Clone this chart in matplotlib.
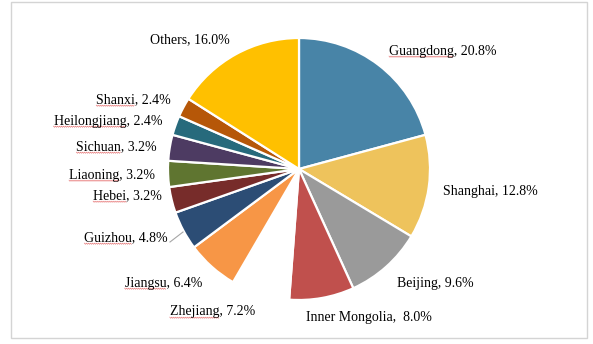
import numpy as np
import matplotlib
matplotlib.use("Agg")
import matplotlib.pyplot as plt
from matplotlib.patches import Rectangle

# share of each region, clockwise from 12 o'clock
regions = ["Guangdong", "Shanghai", "Beijing", "Inner Mongolia", "Zhejiang",
           "Jiangsu", "Guizhou", "Hebei", "Liaoning", "Sichuan",
           "Heilongjiang", "Shanxi", "Others"]
shares = [20.8, 12.8, 9.6, 8.0, 7.2, 6.4, 4.8, 3.2, 3.2, 3.2, 2.4, 2.4, 16.0]

colors = ["#4884A7", "#EEC35C", "#9A9A9A", "#C0504D", "#FFFFFF",
          "#F79646", "#2C4D75", "#772C2A", "#5F7530", "#4D3B62",
          "#276A7C", "#B65708", "#FFC000"]

# label anchor (x, y in pixels, top-left origin) and horizontal alignment
label_pos = [(389, 51, "left"), (443, 191, "left"), (397, 283, "left"),
             (306, 318, "left"), (255, 312, "right"), (202, 283, "right"),
             (168, 238, "right"), (162, 196, "right"), (155, 175, "right"),
             (157, 147, "right"), (162, 121, "right"), (171, 100, "right"),
             (190, 40, "center")]
# names that carry the red squiggle underline
squiggle = {"Guangdong", "Zhejiang", "Jiangsu", "Guizhou", "Hebei", "Liaoning",
            "Sichuan", "Heilongjiang", "Shanxi"}

W, H = 593, 344
fig = plt.figure(figsize=(W / 100, H / 100), dpi=100)
ax = fig.add_axes([0, 0, 1, 1])

cx, cy, r = 299, 169, 131
ax.pie(shares, colors=colors, startangle=-90, counterclock=True,
       center=(cx, cy), radius=r,
       wedgeprops=dict(edgecolor="white", linewidth=1.6))

ax.set_xlim(0, W)
ax.set_ylim(H, 0)
ax.set_aspect("auto")
ax.axis("off")

# outer frame
ax.add_patch(Rectangle((11, 2), 576, 336, fill=False, edgecolor="#D4D4D4",
                       linewidth=1.0))

font = dict(family="Liberation Serif", size=10, color="black")
renderer = fig.canvas.get_renderer()
inv = ax.transData.inverted()

for name, val, (x, y, ha) in zip(regions, shares, label_pos):
    sep = ",  " if name == "Inner Mongolia" else ", "
    txt = ax.text(x, y, f"{name}{sep}{val:.1f}%", ha=ha, va="center", **font)
    if name in squiggle:
        bb = txt.get_window_extent(renderer)
        probe = ax.text(0, 0, name, **font)
        nw = probe.get_window_extent(renderer).width
        probe.remove()
        xs = np.arange(bb.x0, bb.x0 + nw, 1.0)
        ys = bb.y0 + 0.8 + 0.6 * np.where(np.arange(len(xs)) % 2 == 0, 1, -1)
        pts = inv.transform(np.column_stack([xs, ys]))
        ax.plot(pts[:, 0], pts[:, 1], color="#E05050", linewidth=0.45,
                alpha=0.8)

# leader line for Guizhou
ax.plot([170, 183], [242, 232], color="#A6A6A6", linewidth=0.8)

fig.savefig("out.png", dpi=100)
